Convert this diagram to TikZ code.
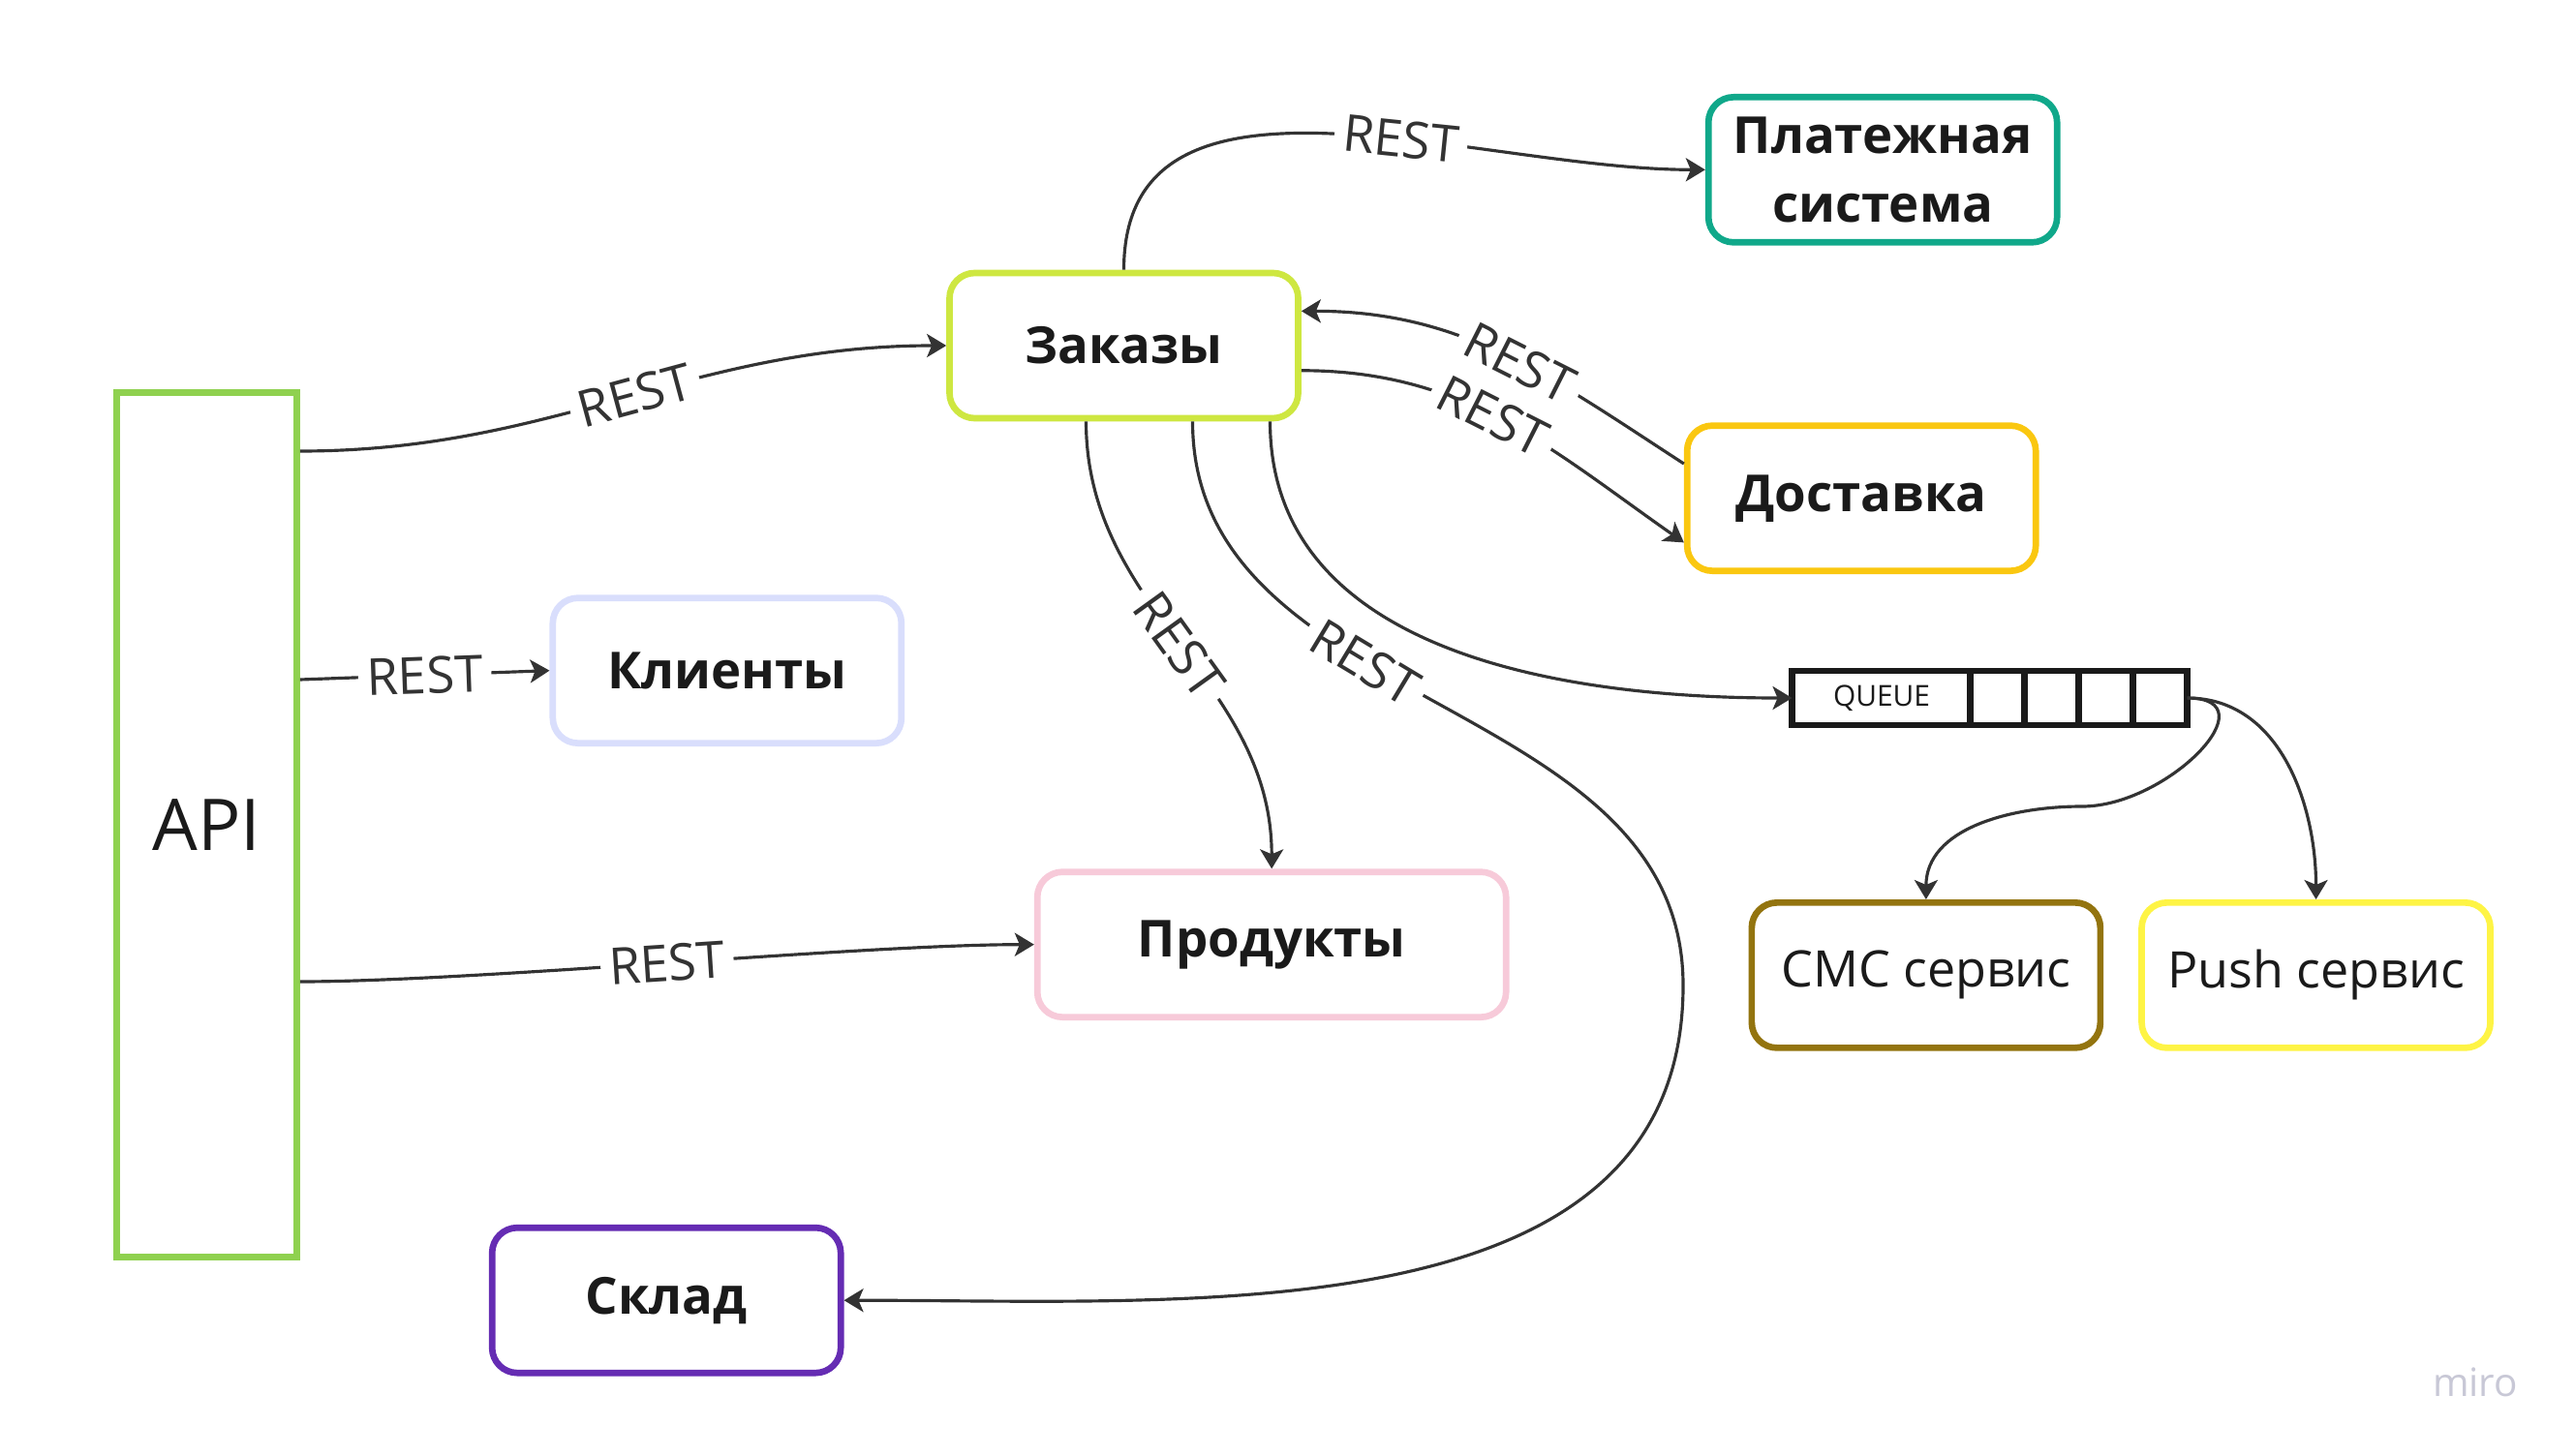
\documentclass[tikz,border=0pt]{standalone}
\usepackage{fontspec}
\setmainfont{Open Sans}
\usepackage{tikz}
\usetikzlibrary{arrows.meta, positioning}
\usepackage{xcolor}
\definecolor{apigreen}{HTML}{8FD14F}
\definecolor{zaklime}{HTML}{CEE741}
\definecolor{payteal}{HTML}{10A88A}
\definecolor{dostyellow}{HTML}{FAC710}
\definecolor{klilav}{HTML}{D9DEFC}
\definecolor{prodpink}{HTML}{F7CAD9}
\definecolor{sklpurple}{HTML}{652CB3}
\definecolor{smsgold}{HTML}{93740F}
\definecolor{pushyellow}{HTML}{FEF445}
\definecolor{ink}{HTML}{1A1A1A}
\definecolor{linegray}{HTML}{333333}
\definecolor{mirogray}{HTML}{C8C8D6}
\tikzstyle{box} = [rectangle, rounded corners=0.26cm, minimum width=3.60cm, minimum height=1.50cm, text centered, align=center, line width=1.9pt, fill=white, text=ink, font=\fontsize{15}{20}\selectfont\bfseries]
\tikzstyle{plainbox} = [box, font=\fontsize{14.8}{20}\selectfont]
\tikzstyle{apibox} = [rectangle, minimum width=1.86cm, minimum height=8.93cm, line width=1.9pt, draw=apigreen, text=ink, font=\fontsize{21}{24}\selectfont]
\tikzstyle{queuebox} = [rectangle, draw=ink, line width=1.8pt, minimum width=4.08cm, minimum height=0.56cm, inner sep=0pt, outer sep=0pt, text=ink, font=\fontsize{8.5}{10}\selectfont]
\tikzstyle{arrow} = [draw=linegray, line width=0.9pt, -{Stealth[length=2mm, width=2.4mm, inset=0.5mm]}]
\tikzstyle{lbl} = [fill=white, inner sep=2.5pt, text=linegray, font=\fontsize{15}{17}\selectfont]

\begin{document}
\begin{tikzpicture}
        \fill [white] (0,0) rectangle (26.59,15.03);
        \useasboundingbox (0,0) rectangle (26.59,15.03);

        \node (api) [apibox] at (2.135,6.51) {API};
        \node (zak) [box, draw=zaklime] at (11.605,11.46) {Заказы};
        \node (pay) [box, draw=payteal, above right=0.25cm and 4.17cm of zak] {Платежная\\система};
        \node (dost) [box, draw=dostyellow, below right=0.01cm and 3.95cm of zak] {Доставка};
        \node (kli) [box, draw=klilav, below left=1.79cm and 0.43cm of zak] {Клиенты};
        \node (prod) [box, draw=prodpink, minimum width=4.84cm, below right=4.62cm and -2.76cm of zak] {Продукты};
        \node (skl) [box, draw=sklpurple, below right=-0.37cm and 1.95cm of api] {Склад};
        \node (queue) [queuebox, below right=1.00cm and -2.55cm of dost] {\makebox[1.85cm]{QUEUE}\makebox[2.23cm]{}};
        \foreach \i in {1,...,4}
            \draw [draw=ink, line width=1.8pt] ([xshift=-\i*0.56cm]queue.north east) -- ([xshift=-\i*0.56cm]queue.south east);
        \node (sms) [plainbox, draw=smsgold, below right=1.80cm and -0.45cm of queue.south west] {СМС сервис};
        \node (push) [plainbox, draw=pushyellow, right=0.36cm of sms] {Push сервис};
        \node (miro) [text=mirogray, font=\fontsize{11.5}{14}\selectfont] at (25.56,0.75) {miro};

        % API -> services
        \draw [arrow] ([yshift=3.86cm]api.east) to[out=0, in=180] node[lbl, sloped, pos=0.52] {REST} (zak.west);
        \draw [arrow] ([yshift=1.5cm]api.east) -- node[lbl, sloped] {REST} (kli.west);
        \draw [arrow] ([yshift=-1.62cm]api.east) to[out=0, in=180, looseness=0.6] node[lbl, sloped] {REST} (prod.west);

        % Заказы -> others
        \draw [arrow] (zak.north) to[out=90, in=180] node[lbl, sloped, pos=0.6] {REST} (pay.west);
        \draw [arrow] (dost.169) to[out=147, in=0] node[lbl, sloped, pos=0.45] {REST} (zak.11);
        \draw [arrow] (zak.-8) to[out=0, in=145] node[lbl, sloped, pos=0.47] {REST} (dost.194);
        \draw [arrow] ([xshift=-0.39cm]zak.south) to[out=-90, in=90] node[lbl, sloped] {REST} (prod.north);
        \draw [arrow] ([xshift=0.71cm]zak.south) to[out=-90, in=90] node[lbl, sloped, pos=0.4] {REST} (17.38,4.85) to[out=-90, in=0] (skl.east);
        \draw [arrow] ([xshift=1.51cm]zak.south) to[out=-90, in=180] (queue.west);

        % queue consumers
        \draw [arrow] (queue.east) to[out=0, in=0, looseness=1.45] (21.5,6.70) to[out=180, in=90] (sms.north);
        \draw [arrow] (queue.east) to[out=0, in=90] (push.north);
    \end{tikzpicture}
\end{document}
